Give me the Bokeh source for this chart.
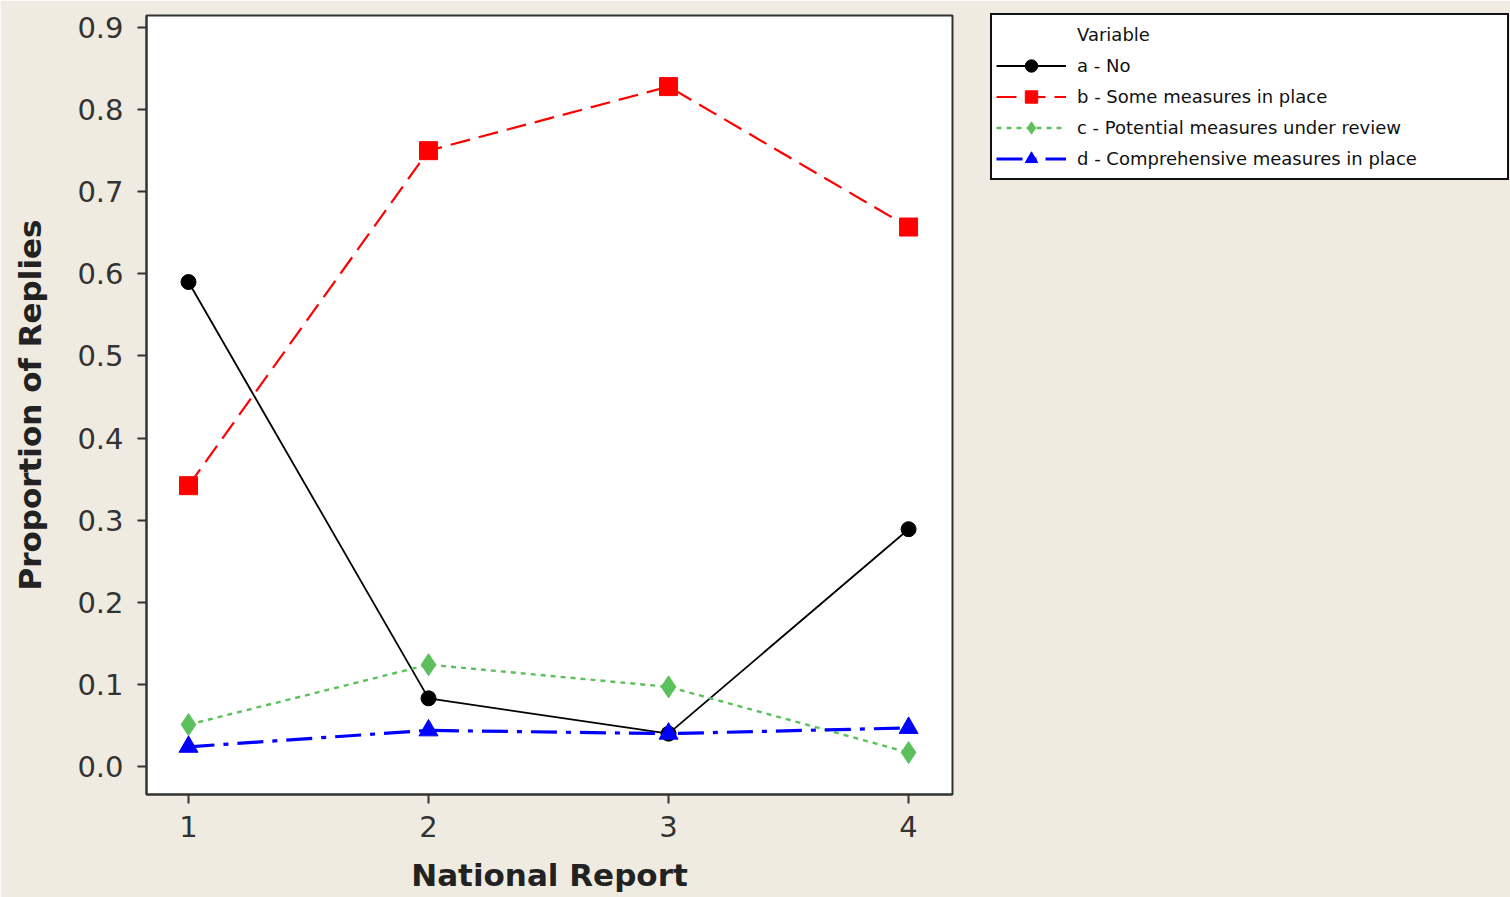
from bokeh.plotting import figure
from bokeh.models import Range1d, FixedTicker, PrintfTickFormatter, Legend, LegendItem
from bokeh.embed import file_html
from bokeh.resources import INLINE

# ---- data ----
national_report = [1, 2, 3, 4]
series_names = [
    "a - No",
    "b - Some measures in place",
    "c - Potential measures under review",
    "d - Comprehensive measures in place",
]
a_no = [0.590, 0.083, 0.040, 0.289]
b_some = [0.342, 0.750, 0.828, 0.657]
c_potential = [0.051, 0.124, 0.097, 0.017]
d_comprehensive = [0.024, 0.044, 0.040, 0.047]
y_ticks = [0.0, 0.1, 0.2, 0.3, 0.4, 0.5, 0.6, 0.7, 0.8, 0.9]
x_ticks = [1, 2, 3, 4]

# ---- styles ----
colors = ["#000000", "#FF0000", "#5CC15C", "#0000FF"]
dashes = ["solid", "20 9", "5 5", "26 9 5 9"]
widths = [1.8, 2.2, 2.4, 3.2]
markers = ["circle", "square", "diamond", "triangle"]
msizes = [15, 18, 22, 19]

BG = "#EFEBE1"
FONT = "DejaVu Sans"

p = figure(
    frame_width=806, frame_height=779,
    x_range=Range1d(0.825, 4.183), y_range=Range1d(-0.0341, 0.9146),
    output_backend="svg", toolbar_location=None,
    min_border_left=146, min_border_top=15, min_border_bottom=103, min_border_right=558,
)
p.border_fill_color = BG
p.background_fill_color = "#FFFFFF"
p.outline_line_color = "#333333"
p.outline_line_width = 2
p.xgrid.visible = False
p.ygrid.visible = False

for ax in (p.xaxis[0], p.yaxis[0]):
    ax.axis_line_color = "#333333"
    ax.axis_line_width = 2
    ax.major_tick_line_color = "#333333"
    ax.major_tick_line_width = 2
    ax.major_tick_out = 9
    ax.major_tick_in = 0
    ax.minor_tick_line_color = None
    ax.major_label_text_font = FONT
    ax.major_label_text_font_size = "29px"
    ax.major_label_text_color = "#333333"
    ax.axis_label_text_font = FONT
    ax.axis_label_text_font_size = "31px"
    ax.axis_label_text_font_style = "bold"
    ax.axis_label_text_color = "#222222"

p.xaxis.ticker = FixedTicker(ticks=x_ticks)
p.yaxis.ticker = FixedTicker(ticks=y_ticks)
p.yaxis.formatter = PrintfTickFormatter(format="%.1f")
p.xaxis.axis_label = "National Report"
p.yaxis.axis_label = "Proportion of Replies"
p.xaxis.major_label_standoff = 12
p.yaxis.major_label_standoff = 14
p.xaxis.axis_label_standoff = 17
p.yaxis.axis_label_standoff = 26

values = [a_no, b_some, c_potential, d_comprehensive]
items = [LegendItem(label="Variable", renderers=[])]
for name, vals, c, d, w, m, s in zip(series_names, values, colors, dashes, widths, markers, msizes):
    ln = p.line(national_report, vals, line_color=c, line_dash=d, line_width=w)
    sc = p.scatter(national_report, vals, marker=m, size=s, fill_color=c, line_color=c)
    items.append(LegendItem(label=name, renderers=[ln, sc]))

legend = Legend(
    items=items, location=(38, 614), margin=0,
    label_text_font=FONT, label_text_font_size="18px", label_text_color="#111111",
    glyph_width=70, glyph_height=31, label_height=31, spacing=0,
    label_standoff=11, padding=4, label_width=426,
    border_line_color="#111111", border_line_width=2, border_line_alpha=1.0,
    background_fill_color="#FFFFFF", background_fill_alpha=1.0,
)
p.add_layout(legend, "right")

open("out.html", "w").write(file_html(p, INLINE))
